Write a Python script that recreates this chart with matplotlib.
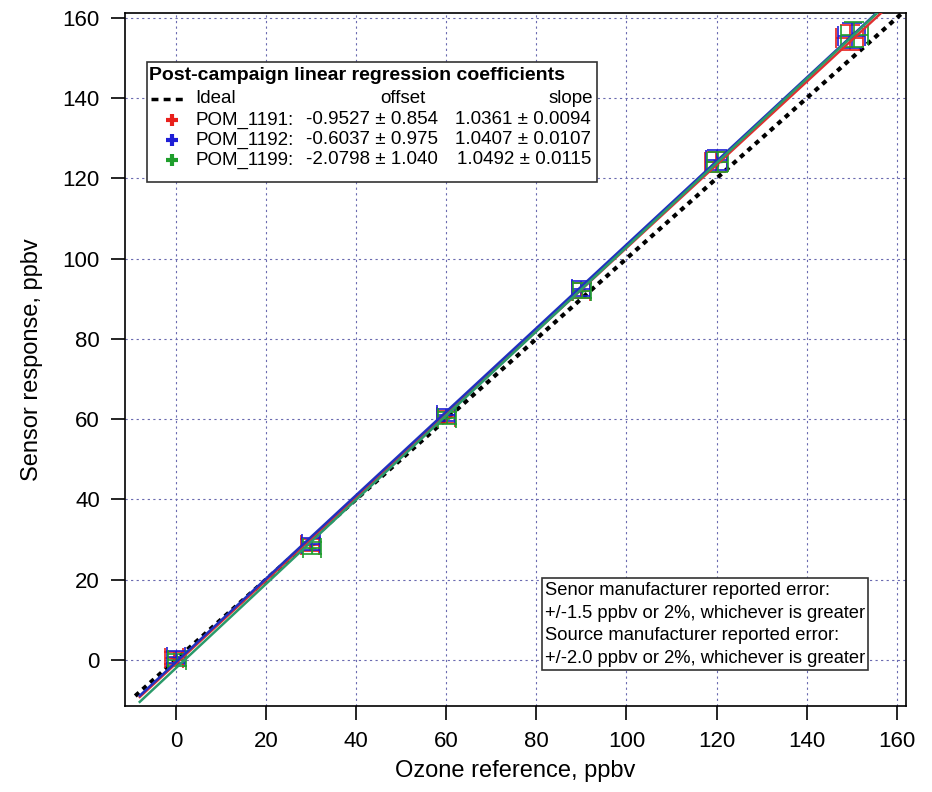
import matplotlib.pyplot as plt
import numpy as np
from matplotlib.patches import Rectangle

plt.rcParams['font.family'] = ['Liberation Sans', 'DejaVu Sans']

# calibration points (reference vs sensor response), ppbv
ref = [0, 30, 60, 90, 120, 150]
pom_1191 = [0.5, 28.5, 60.5, 92.0, 124.0, 155.0]
pom_1192 = [0.8, 28.8, 61.0, 92.5, 124.5, 155.5]
pom_1199 = [0.0, 27.8, 60.2, 92.0, 124.0, 155.8]
ref_x = {'POM_1191': [-0.3, 29.8, 59.9, 89.8, 119.8, 149.5],
         'POM_1192': [0.0, 30.0, 60.0, 90.0, 120.0, 150.0],
         'POM_1199': [0.3, 30.2, 60.1, 90.2, 120.2, 150.5]}

# fit coefficients
names = ['POM_1191', 'POM_1192', 'POM_1199']
offsets = [-0.9527, -0.6037, -2.0798]
offset_err = [0.854, 0.975, 1.040]
slopes = [1.0361, 1.0407, 1.0492]
slope_err = [0.0094, 0.0107, 0.0115]
colors = ['#e8201c', '#1f1fd6', '#1f9e2c']
fit_colors = ['#e03030', '#2030c0', '#2a9a6a']
series = [pom_1191, pom_1192, pom_1199]

fig = plt.figure(figsize=(9.32, 7.92), dpi=100)
ax = fig.add_axes([0.134, 0.1086, 0.838, 0.875])

xfit = np.array([-8.0, 165.0])
ax.plot([-9, 161], [-9, 161], color='black', ls=(0, (1.2, 1.2)), lw=3, zorder=3)
for i, (n, y) in enumerate(zip(names, series)):
    x = np.array(ref_x[n])
    yv = np.array(y)
    xerr = np.maximum(2.0, 0.02 * x)
    yerr = np.maximum(1.5, 0.02 * yv)
    ax.errorbar(x, yv, xerr=xerr, yerr=yerr, fmt='+', color=colors[i], ms=6,
                elinewidth=1.2, capsize=7, capthick=1.2, zorder=4)
    ax.plot(xfit, offsets[i] + slopes[i] * xfit, color=fit_colors[i], lw=1.8, zorder=5)

ax.set_xlim(-11.3, 162)
ax.set_ylim(-11.5, 161.2)
ax.set_xticks(np.arange(0, 161, 20))
ax.set_yticks(np.arange(0, 161, 20))
ax.grid(True, color='#6a6ab0', ls=(0, (2, 3)), lw=0.8)
ax.tick_params(labelsize=16, length=10, width=1.2, direction='out', pad=8)
for s in ax.spines.values():
    s.set_linewidth(1.2)
ax.set_xlabel('Ozone reference, ppbv', fontsize=17, labelpad=6)
ax.set_ylabel('Sensor response, ppbv', fontsize=17, labelpad=14)


def px(x, y):
    # figure pixel -> axes fraction
    return ((x - 125) / 781.0, (706 - y) / 693.0)


# coefficient box
x0, y0 = px(147, 182)
x1, y1 = px(597, 62)
ax.add_patch(Rectangle((x0, y0), x1 - x0, y1 - y0, transform=ax.transAxes,
                       facecolor='white', edgecolor='#333333', lw=1.2, zorder=10))
fs = 13.5
ax.text(*px(149, 76), 'Post-campaign linear regression coefficients', transform=ax.transAxes,
        fontsize=14, fontweight='bold', va='center', ha='left', zorder=11)
ax.plot([px(151, 99)[0], px(183, 99)[0]], [px(151, 99)[1]] * 2, transform=ax.transAxes,
        color='black', ls=(0, (2, 1.5)), lw=2.5, zorder=11)
ax.text(*px(195, 99), 'Ideal', transform=ax.transAxes, fontsize=fs, va='center', zorder=11)
ax.text(*px(403, 99), 'offset', transform=ax.transAxes, fontsize=fs, va='center', ha='center', zorder=11)
ax.text(*px(593, 99), 'slope', transform=ax.transAxes, fontsize=fs, va='center', ha='right', zorder=11)
for i in range(3):
    yy = 120 + 20 * i
    ax.plot(*px(172, yy), marker='+', color=colors[i], ms=9, mew=3, transform=ax.transAxes, zorder=11)
    ax.text(*px(196, yy), names[i] + ':', transform=ax.transAxes, fontsize=fs, va='center', zorder=11)
    ax.text(*px(438, yy), f'{offsets[i]:.4f} \u00b1 {offset_err[i]:.3f}', transform=ax.transAxes,
            fontsize=fs, va='center', ha='right', zorder=11)
    ax.text(*px(591, yy), f'{slopes[i]:.4f} \u00b1 {slope_err[i]:.4f}', transform=ax.transAxes,
            fontsize=fs, va='center', ha='right', zorder=11)

# manufacturer error box
x0, y0 = px(542, 670)
x1, y1 = px(868, 578)
ax.add_patch(Rectangle((x0, y0), x1 - x0, y1 - y0, transform=ax.transAxes,
                       facecolor='white', edgecolor='#333333', lw=1.2, zorder=10))
lines = ['Senor manufacturer reported error:',
         '+/-1.5 ppbv or 2%, whichever is greater',
         'Source manufacturer reported error:',
         '+/-2.0 ppbv or 2%, whichever is greater']
for k, t in enumerate(lines):
    ax.text(*px(545, 591 + 22.5 * k), t, transform=ax.transAxes, fontsize=13.2,
            va='center', ha='left', zorder=11)

fig.savefig('out.png', dpi=100)
